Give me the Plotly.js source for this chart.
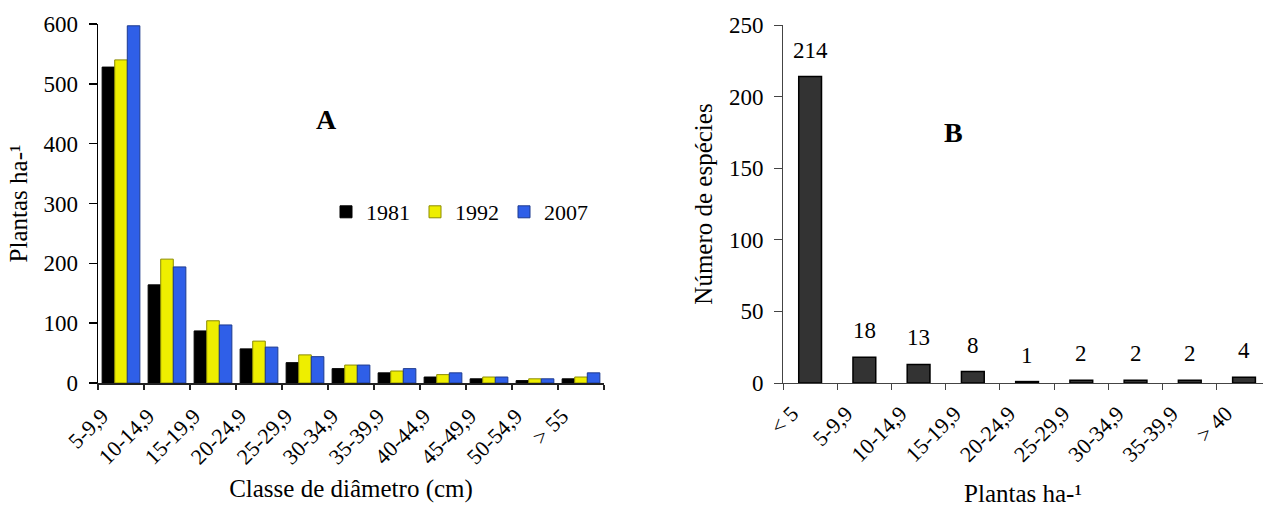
<!DOCTYPE html>
<html>
<head>
<meta charset="utf-8">
<script src="https://cdn.plot.ly/plotly-3.0.1.min.js"></script>
<style>html,body{margin:0;padding:0;background:#fff;}#chart{width:1265px;height:510px;}</style>
</head>
<body>
<div id="chart"></div>
<script>
// ---- Data: panel A ----
const classesA = ["5-9,9","10-14,9","15-19,9","20-24,9","25-29,9","30-34,9","35-39,9","40-44,9","45-49,9","50-54,9","> 55"];
const years = ["1981","1992","2007"];
const plantas1981 = [528,164,87,57,34,24,17,10,7,4,7];
const plantas1992 = [540,207,104,70,47,30,20,14,10,7,10];
const plantas2007 = [597,194,97,60,44,30,24,17,10,7,17];

// ---- Data: panel B ----
const classesB = ["< 5","5-9,9","10-14,9","15-19,9","20-24,9","25-29,9","30-34,9","35-39,9","> 40"];
const especies = [214,18,13,8,1,2,2,2,4];

const W = 1265, H = 510;
const FONT = "Liberation Serif";
const px = v => v / W;
const py = v => (H - v) / H;

const seriesA = [plantas1981, plantas1992, plantas2007];
const fills = ["#000000", "#eeee00", "#2f5fe8"];
const lines = ["#000000", "#8c8c00", "#1d3a8f"];

const traces = seriesA.map((vals, i) => ({
  type: "bar", x: classesA, y: vals, name: years[i],
  xaxis: "x", yaxis: "y",
  marker: {color: fills[i], line: {color: lines[i], width: 1}},
  hoverinfo: "skip"
}));

traces.push({
  type: "bar", x: classesB, y: especies, name: "B",
  xaxis: "x2", yaxis: "y2", showlegend: false, width: 0.42,
  marker: {color: "#333333", line: {color: "#000000", width: 1.5}},
  hoverinfo: "skip"
});

const annB = classesB.map((c, i) => ({
  xref: "x2", yref: "y2", x: c, y: especies[i], text: String(especies[i]),
  showarrow: false, yanchor: "bottom", yshift: 12,
  font: {family: FONT, size: 23, color: "#000"}
}));

const xTickFont = {family: FONT, size: 22, color: "#000"};
const yTickFont = {family: FONT, size: 23, color: "#000"};
const titleFont = {family: FONT, size: 25, color: "#000"};

const layout = {
  width: W, height: H,
  margin: {l: 0, r: 0, t: 0, b: 0},
  paper_bgcolor: "#fff", plot_bgcolor: "rgba(0,0,0,0)",
  barmode: "group", bargap: 0.18, bargroupgap: 0,
  font: {family: FONT, color: "#000"},
  showlegend: true,
  legend: {
    orientation: "h", x: px(326), y: py(212), xanchor: "left", yanchor: "middle",
    font: {family: FONT, size: 22, color: "#000"}, bgcolor: "rgba(0,0,0,0)",
    itemclick: false, traceorder: "normal"
  },
  xaxis: {
    domain: [px(98), px(604)], anchor: "y",
    showline: true, linecolor: "#222", linewidth: 1.5,
    ticks: "outside", ticklen: 5, tickcolor: "#222", tickwidth: 1.5,
    tickson: "boundaries", tickangle: -45, tickfont: xTickFont,
    ticklabelshift: -19, ticklabelstandoff: 10,
    showgrid: false, zeroline: false, automargin: false,
    title: {text: "Classe de diâmetro (cm)", font: titleFont, standoff: 11}
  },
  yaxis: {
    domain: [py(383), py(24)], anchor: "x", range: [0, 600],
    tickvals: [0,100,200,300,400,500,600],
    showline: true, linecolor: "#000", linewidth: 1.5,
    ticks: "outside", ticklen: 8, tickcolor: "#000", tickwidth: 1.5,
    ticklabelstandoff: 6,
    tickfont: yTickFont, showgrid: false, zeroline: false, automargin: false,
    title: {text: "Plantas ha-¹", font: titleFont, standoff: 8}
  },
  xaxis2: {
    domain: [px(783), px(1263)], anchor: "y2", range: [-0.5, 8.35],
    showline: true, linecolor: "#444", linewidth: 1,
    ticks: "outside", ticklen: 6, tickcolor: "#444", tickwidth: 1,
    tickson: "boundaries", tickangle: -45, tickfont: xTickFont,
    ticklabelshift: -18, ticklabelstandoff: 8,
    showgrid: false, zeroline: false, automargin: false,
    title: {text: "Plantas ha-¹", font: titleFont, standoff: 18}
  },
  yaxis2: {
    domain: [py(383), py(25)], anchor: "x2", range: [0, 250],
    tickvals: [0,50,100,150,200,250],
    showline: true, linecolor: "#444", linewidth: 1,
    ticks: "outside", ticklen: 8, tickcolor: "#444", tickwidth: 1,
    ticklabelstandoff: 6,
    tickfont: yTickFont, showgrid: false, zeroline: false, automargin: false,
    title: {text: "Número de espécies", font: titleFont, standoff: 9}
  },
  annotations: annB.concat([
    {xref: "paper", yref: "paper", x: px(314), y: py(102), text: "<b>A</b>", showarrow: false,
     font: {family: FONT, size: 28, color: "#000"}},
    {xref: "paper", yref: "paper", x: px(965), y: py(115), text: "<b>B</b>", showarrow: false,
     font: {family: FONT, size: 28, color: "#000"}}
  ])
};

Plotly.newPlot("chart", traces, layout, {staticPlot: true, displayModeBar: false});
</script>
</body>
</html>
